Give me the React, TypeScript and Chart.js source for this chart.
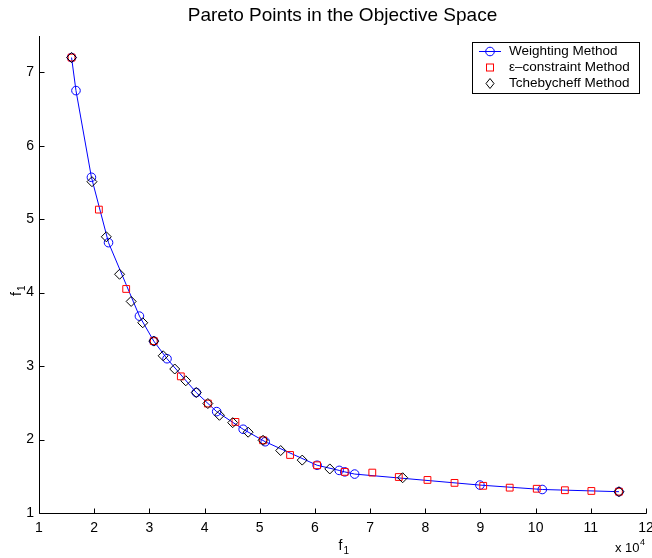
import React, { useEffect, useRef } from 'react';
import { Chart, registerables } from 'chart.js';

Chart.register(...registerables);

// ---- data (f1 in raw units; axis shows x 10^4) ----
const weightingF1 = [15900, 16700, 19500, 22600, 28200, 30800, 33200, 38500, 42200, 47000, 51000, 60400, 64400, 65400, 67200, 89900, 101200, 115100];
const weightingF2 = [7.20, 6.75, 5.57, 4.68, 3.68, 3.34, 3.10, 2.64, 2.38, 2.14, 1.97, 1.65, 1.58, 1.56, 1.53, 1.38, 1.32, 1.29];

const epsilonF1 = [15900, 20850, 25800, 30800, 35700, 40600, 45600, 50600, 55500, 60400, 65400, 70400, 75200, 80400, 85300, 90500, 95300, 100200, 105300, 110100, 115100];
const epsilonF2 = [7.20, 5.13, 4.05, 3.34, 2.86, 2.49, 2.24, 1.99, 1.79, 1.65, 1.56, 1.55, 1.49, 1.45, 1.41, 1.37, 1.345, 1.33, 1.31, 1.30, 1.29];

const tchebyF1 = [15900, 19600, 22200, 24600, 26700, 28800, 30800, 32500, 34600, 36600, 38500, 40600, 42700, 45100, 47900, 50600, 53800, 57700, 62700, 75900, 115100];
const tchebyF2 = [7.20, 5.51, 4.76, 4.25, 3.88, 3.59, 3.34, 3.14, 2.96, 2.80, 2.64, 2.49, 2.33, 2.23, 2.10, 1.99, 1.85, 1.72, 1.60, 1.48, 1.29];

const xTickValues = [10000, 20000, 30000, 40000, 50000, 60000, 70000, 80000, 90000, 100000, 110000, 120000];
const xTickLabels = ['1', '2', '3', '4', '5', '6', '7', '8', '9', '10', '11', '12'];
const yTickValues = [1, 2, 3, 4, 5, 6, 7];
const yTickLabels = ['1', '2', '3', '4', '5', '6', '7'];

const titleText = 'Pareto Points in the Objective Space';
const seriesNames = ['Weighting Method', 'ε–constraint Method', 'Tchebycheff Method'];
const axisLabelMain = 'f';
const axisLabelSub = '1';
const multiplierBase = 'x 10';
const multiplierExp = '4';

const FONT = '"Liberation Sans", Arial, Helvetica, sans-serif';
const BLUE = '#0000ff';
const RED = '#ff0000';
const BLACK = '#000000';

function toPoints(xs: number[], ys: number[]) {
  return xs.map((x, i) => ({ x, y: ys[i] }));
}

function drawDiamond(ctx: CanvasRenderingContext2D, x: number, y: number, w: number, h: number) {
  ctx.beginPath();
  ctx.moveTo(x, y - h);
  ctx.lineTo(x + w, y);
  ctx.lineTo(x, y + h);
  ctx.lineTo(x - w, y);
  ctx.closePath();
  ctx.stroke();
}

const overlayPlugin = {
  id: 'overlay',
  afterDraw(chart: any) {
    const ctx: CanvasRenderingContext2D = chart.ctx;
    const xs = chart.scales.x;
    const ys = chart.scales.y;
    const a = chart.chartArea;
    ctx.save();
    // axes lines
    ctx.strokeStyle = BLACK;
    ctx.lineWidth = 1;
    const left = Math.round(a.left) + 0.5;
    const bottom = Math.round(a.bottom) + 0.5;
    ctx.beginPath();
    ctx.moveTo(left, Math.round(a.top));
    ctx.lineTo(left, bottom);
    ctx.lineTo(Math.round(a.right) + 0.5, bottom);
    ctx.stroke();
    // inward ticks
    ctx.beginPath();
    for (const v of xTickValues) {
      const px = Math.round(xs.getPixelForValue(v)) + 0.5;
      ctx.moveTo(px, bottom);
      ctx.lineTo(px, bottom - 5);
    }
    for (const v of yTickValues) {
      const py = Math.round(ys.getPixelForValue(v)) + 0.5;
      ctx.moveTo(left, py);
      ctx.lineTo(left + 5, py);
    }
    ctx.stroke();

    ctx.fillStyle = BLACK;
    // title
    ctx.font = `19px ${FONT}`;
    ctx.textAlign = 'center';
    ctx.textBaseline = 'alphabetic';
    ctx.fillText(titleText, (a.left + a.right) / 2, 21);

    // x axis label
    const cx = (a.left + a.right) / 2;
    ctx.font = `14px ${FONT}`;
    ctx.textAlign = 'left';
    ctx.fillText(axisLabelMain, cx - 4, 550);
    ctx.font = `10px ${FONT}`;
    ctx.fillText(axisLabelSub, cx + 1, 554);

    // y axis label (rotated)
    ctx.save();
    ctx.translate(21, 292);
    ctx.rotate(-Math.PI / 2);
    ctx.font = `14px ${FONT}`;
    ctx.textAlign = 'left';
    ctx.fillText(axisLabelMain, -4, 0);
    ctx.font = `10px ${FONT}`;
    ctx.fillText(axisLabelSub, 1, 4);
    ctx.restore();

    // multiplier
    ctx.font = `13px ${FONT}`;
    ctx.textAlign = 'left';
    ctx.fillText(multiplierBase, 615, 552);
    ctx.font = `9px ${FONT}`;
    ctx.fillText(multiplierExp, 640, 545);

    // legend
    const bx = 472.5, by = 42.5, bw = 167, bh = 51;
    ctx.fillStyle = '#ffffff';
    ctx.fillRect(bx, by, bw, bh);
    ctx.strokeStyle = BLACK;
    ctx.lineWidth = 1;
    ctx.strokeRect(bx, by, bw, bh);
    const rows = [51, 67, 83];
    const mx = 490;
    // row 1: line + circle
    ctx.strokeStyle = BLUE;
    ctx.beginPath();
    ctx.moveTo(479, rows[0] + 0.5);
    ctx.lineTo(501, rows[0] + 0.5);
    ctx.stroke();
    ctx.beginPath();
    ctx.arc(mx, rows[0] + 0.5, 4.3, 0, Math.PI * 2);
    ctx.stroke();
    // row 2: square
    ctx.strokeStyle = RED;
    ctx.strokeRect(mx - 3.5, rows[1] - 3, 7, 7);
    // row 3: diamond
    ctx.strokeStyle = BLACK;
    drawDiamond(ctx, mx, rows[2] + 0.5, 4, 5);
    // texts
    ctx.fillStyle = BLACK;
    ctx.font = `13.5px ${FONT}`;
    ctx.textAlign = 'left';
    ctx.textBaseline = 'middle';
    rows.forEach((r, i) => ctx.fillText(seriesNames[i], 509, r + 0.5));
    ctx.restore();
  },
};

export default function App() {
  const canvasRef = useRef<HTMLCanvasElement | null>(null);

  useEffect(() => {
    if (!canvasRef.current) return;
    const chart = new Chart(canvasRef.current, {
      type: 'line',
      data: {
        datasets: [
          {
            label: seriesNames[2],
            data: toPoints(tchebyF1, tchebyF2),
            showLine: false,
            pointStyle: 'rectRot',
            pointRadius: 5,
            pointBorderColor: BLACK,
            pointBackgroundColor: 'rgba(0,0,0,0)',
            pointBorderWidth: 1,
            order: 0,
          },
          {
            label: seriesNames[1],
            data: toPoints(epsilonF1, epsilonF2),
            showLine: false,
            pointStyle: 'rect',
            pointRadius: 4.8,
            pointBorderColor: RED,
            pointBackgroundColor: 'rgba(0,0,0,0)',
            pointBorderWidth: 1,
            order: 1,
          },
          {
            label: seriesNames[0],
            data: toPoints(weightingF1, weightingF2),
            showLine: true,
            borderColor: BLUE,
            borderWidth: 1,
            tension: 0,
            pointStyle: 'circle',
            pointRadius: 4.3,
            pointBorderColor: BLUE,
            pointBackgroundColor: 'rgba(0,0,0,0)',
            pointBorderWidth: 1,
            order: 2,
          },
        ],
      },
      options: {
        animation: false,
        responsive: false,
        maintainAspectRatio: false,
        devicePixelRatio: 1,
        layout: { padding: { top: 35.5, right: 6, left: 0, bottom: 0 } },
        plugins: {
          legend: { display: false },
          title: { display: false },
          tooltip: { enabled: false },
        },
        scales: {
          x: {
            type: 'linear',
            min: 10000,
            max: 120000,
            grid: { display: false, drawTicks: false },
            border: { display: false },
            afterBuildTicks: (s: any) => {
              s.ticks = xTickValues.map((v) => ({ value: v }));
            },
            afterFit: (s: any) => {
              s.height = 45;
              s.paddingLeft = 0;
              s.paddingRight = 0;
            },
            ticks: {
              autoSkip: false,
              maxRotation: 0,
              padding: 7,
              color: BLACK,
              font: { family: FONT, size: 14 },
              callback: (_v: any, i: number) => xTickLabels[i],
            },
          },
          y: {
            type: 'linear',
            min: 1,
            max: 7.5,
            grid: { display: false, drawTicks: false },
            border: { display: false },
            afterBuildTicks: (s: any) => {
              s.ticks = yTickValues.map((v) => ({ value: v }));
            },
            afterFit: (s: any) => {
              s.width = 39;
              s.paddingTop = 0;
              s.paddingBottom = 0;
            },
            ticks: {
              autoSkip: false,
              padding: 5,
              color: BLACK,
              font: { family: FONT, size: 14 },
              callback: (_v: any, i: number) => yTickLabels[i],
            },
          },
        },
      },
      plugins: [overlayPlugin],
    });
    return () => chart.destroy();
  }, []);

  return (
    <div style={{ position: 'absolute', left: 0, top: 0, width: 652, height: 558, background: '#fff' }}>
      <canvas ref={canvasRef} width={652} height={558} style={{ width: 652, height: 558, display: 'block' }} />
    </div>
  );
}
